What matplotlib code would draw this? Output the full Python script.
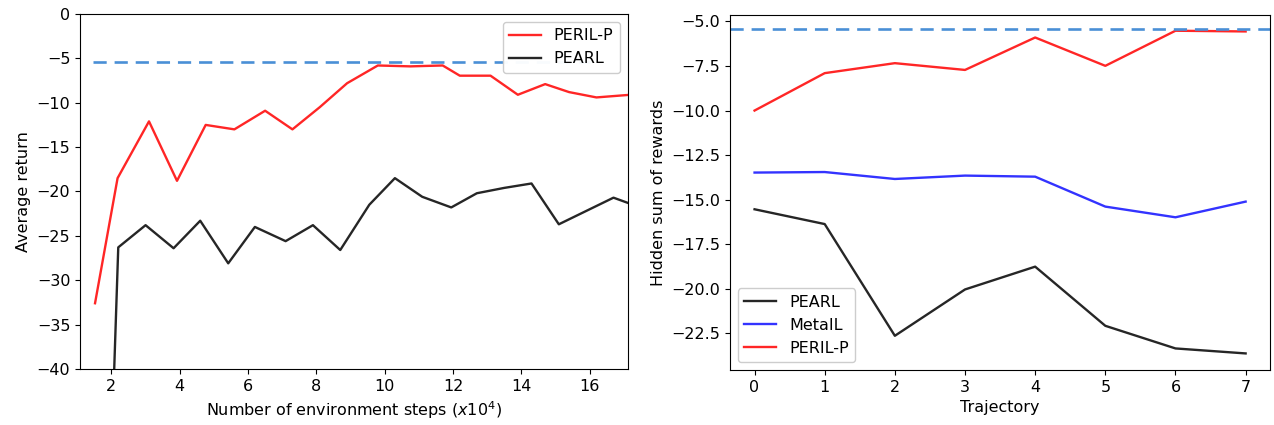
import matplotlib
matplotlib.use("Agg")
import matplotlib.pyplot as plt

# ---- Left panel data ----
peril_x = [1.52, 2.18, 3.1, 3.92, 4.76, 5.6, 6.5, 7.3, 8.1, 8.9, 9.8, 10.75, 11.7, 12.2, 13.1, 13.9, 14.7, 15.4, 16.2, 17.2]
peril_y = [-32.6, -18.5, -12.1, -18.8, -12.5, -13.0, -10.9, -13.0, -10.5, -7.8, -5.8, -5.9, -5.8, -6.95, -6.95, -9.1, -7.9, -8.8, -9.4, -9.1]
pearl_x = [1.52, 2.2, 3.0, 3.82, 4.6, 5.42, 6.2, 7.1, 7.9, 8.7, 9.55, 10.3, 11.1, 11.95, 12.7, 13.5, 14.3, 15.1, 15.9, 16.7, 17.2]
pearl_y = [-105.0, -26.3, -23.8, -26.4, -23.3, -28.1, -24.0, -25.6, -23.8, -26.6, -21.5, -18.5, -20.6, -21.8, -20.2, -19.6, -19.1, -23.7, -22.2, -20.7, -21.4]
left_ref = -5.4
left_ref_span = [1.45, 16.0]

# ---- Right panel data ----
traj = [0, 1, 2, 3, 4, 5, 6, 7]
r_pearl = [-15.54, -16.37, -22.64, -20.04, -18.76, -22.08, -23.35, -23.63]
r_metail = [-13.48, -13.45, -13.84, -13.65, -13.71, -15.39, -15.99, -15.11]
r_peril = [-10.0, -7.90, -7.34, -7.72, -5.90, -7.49, -5.52, -5.56]
right_ref = -5.41

plt.rcParams['font.family'] = ['DejaVu Sans']
plt.rcParams['font.size'] = 11.5

fig = plt.figure(figsize=(12.74, 4.25), dpi=100)
ax1 = fig.add_axes([0.0628, 0.132, 0.430, 0.835])
ax2 = fig.add_axes([0.573, 0.129, 0.424, 0.836])

red = (1.0, 0.15, 0.15)
blk = (0.15, 0.15, 0.15)
blu = (0.2, 0.2, 1.0)
dash = '#4a8fd6'

ax1.plot(peril_x, peril_y, color=red, lw=1.7, label='PERIL-P')
ax1.plot(pearl_x, pearl_y, color=blk, lw=1.7, label='PEARL')
ax1.hlines(left_ref, left_ref_span[0], left_ref_span[1], color=dash, lw=1.9, ls=(0, (5, 3)))
ax1.set_xlim(1.08, 17.12)
ax1.set_ylim(-40, 0)
ax1.set_xticks([2, 4, 6, 8, 10, 12, 14, 16])
ax1.set_yticks([0, -5, -10, -15, -20, -25, -30, -35, -40])
ax1.set_xlabel('Number of environment steps ($x10^4$)')
ax1.set_ylabel('Average return')
ax1.legend(loc='upper right', framealpha=0.97)

ax2.plot(traj, r_pearl, color=blk, lw=1.7, label='PEARL')
ax2.plot(traj, r_metail, color=blu, lw=1.7, label='MetaIL')
ax2.plot(traj, r_peril, color=red, lw=1.7, label='PERIL-P')
ax2.axhline(right_ref, color=dash, lw=1.9, ls=(0, (5, 3)))
ax2.set_ylim(-24.57, -4.63)
ax2.set_xlabel('Trajectory')
ax2.set_ylabel('Hidden sum of rewards')
ax2.legend(loc='lower left', framealpha=0.97)

fig.savefig('out.png', dpi=100)
